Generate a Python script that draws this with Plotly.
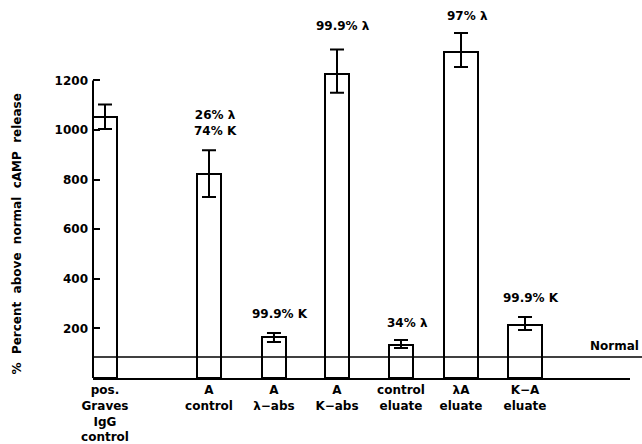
import plotly.graph_objects as go

# ---- data ----
categories = ["pos.<br>Graves<br>IgG<br>control", "A<br>control", "A<br>λ−abs", "A<br>K−abs",
              "control<br>eluate", "λA<br>eluate", "K−A<br>eluate"]
values = [1052, 823, 165, 1227, 133, 1315, 214]
err_plus = [51, 95, 16, 98, 20, 76, 32]
err_minus = [48, 93, 20, 77, 12, 61, 20]
bar_labels = ["", "26% λ<br>74% K", "99.9% K", "99.9% λ", "34% λ", "97% λ", "99.9% K"]
normal_level = 85
y_ticks = [200, 400, 600, 800, 1000, 1200]

# ---- layout helpers (positions / sizes) ----
positions = [0, 1.625, 2.64, 3.625, 4.625, 5.5625, 6.5625]
widths = [0.375, 0.375, 0.375, 0.375, 0.375, 0.52, 0.52]
label_shift = [0, 10, 10, 14, 8, 8, 10]

FONT = "DejaVu Sans"

fig = go.Figure()
fig.add_trace(go.Bar(
    x=positions, y=values, width=widths,
    marker=dict(color="white", line=dict(color="black", width=2)),
    error_y=dict(type="data", symmetric=False, array=err_plus, arrayminus=err_minus,
                 color="black", thickness=2, width=7),
    showlegend=False, hoverinfo="skip",
))

# percentage labels above bars
for xp, v, ep, txt, sh in zip(positions, values, err_plus, bar_labels, label_shift):
    if not txt:
        continue
    fig.add_annotation(x=xp, y=v + ep, xref="x", yref="y", text=txt, showarrow=False,
                       yanchor="bottom", xanchor="center", xshift=6, yshift=sh,
                       font=dict(family=FONT, size=12, color="black", weight="bold"))

# y axis line up to 1200
fig.add_shape(type="line", xref="paper", yref="y", x0=0, x1=0, y0=0, y1=y_ticks[-1],
              line=dict(color="black", width=2))
# normal line
fig.add_shape(type="line", xref="paper", yref="y", x0=0, x1=1.0224, y0=normal_level, y1=normal_level,
              line=dict(color="black", width=1.5))
fig.add_annotation(x=1.0205, y=normal_level, xref="paper", yref="y", text="Normal", showarrow=False,
                   xanchor="right", yanchor="bottom", yshift=2,
                   font=dict(family=FONT, size=12, color="black", weight="bold"))

# y-axis title
fig.add_annotation(x=-0.1415, y=0.39, xref="paper", yref="paper",
                   text="%  Percent  above  normal  cAMP  release", showarrow=False,
                   textangle=-90, xanchor="center", yanchor="middle",
                   font=dict(family=FONT, size=12, color="black", weight="bold"))

fig.update_layout(
    width=642, height=444,
    margin=dict(l=93, r=12, t=10, b=66),
    paper_bgcolor="white", plot_bgcolor="white",
    font=dict(family=FONT, size=12, color="black", weight="bold"),
    bargap=0,
)
fig.update_xaxes(range=[-0.1875, 8.203], tickvals=positions, ticktext=categories,
                 showline=True, linecolor="black", linewidth=2, ticks="",
                 showgrid=False, zeroline=False, tickangle=0, automargin=False,
                 tickfont=dict(family=FONT, size=12, color="black", weight="bold"))
fig.update_yaxes(range=[0, 1484], tickvals=y_ticks, showline=False, ticks="inside",
                 ticklen=7, tickwidth=2, tickcolor="black", showgrid=False, zeroline=False,
                 ticklabelstandoff=4, automargin=False,
                 tickfont=dict(family=FONT, size=12, color="black", weight="bold"))

fig.write_html("out.html", config={"displayModeBar": False},
               post_script="document.body.style.margin='0';document.body.style.overflow='hidden';")
